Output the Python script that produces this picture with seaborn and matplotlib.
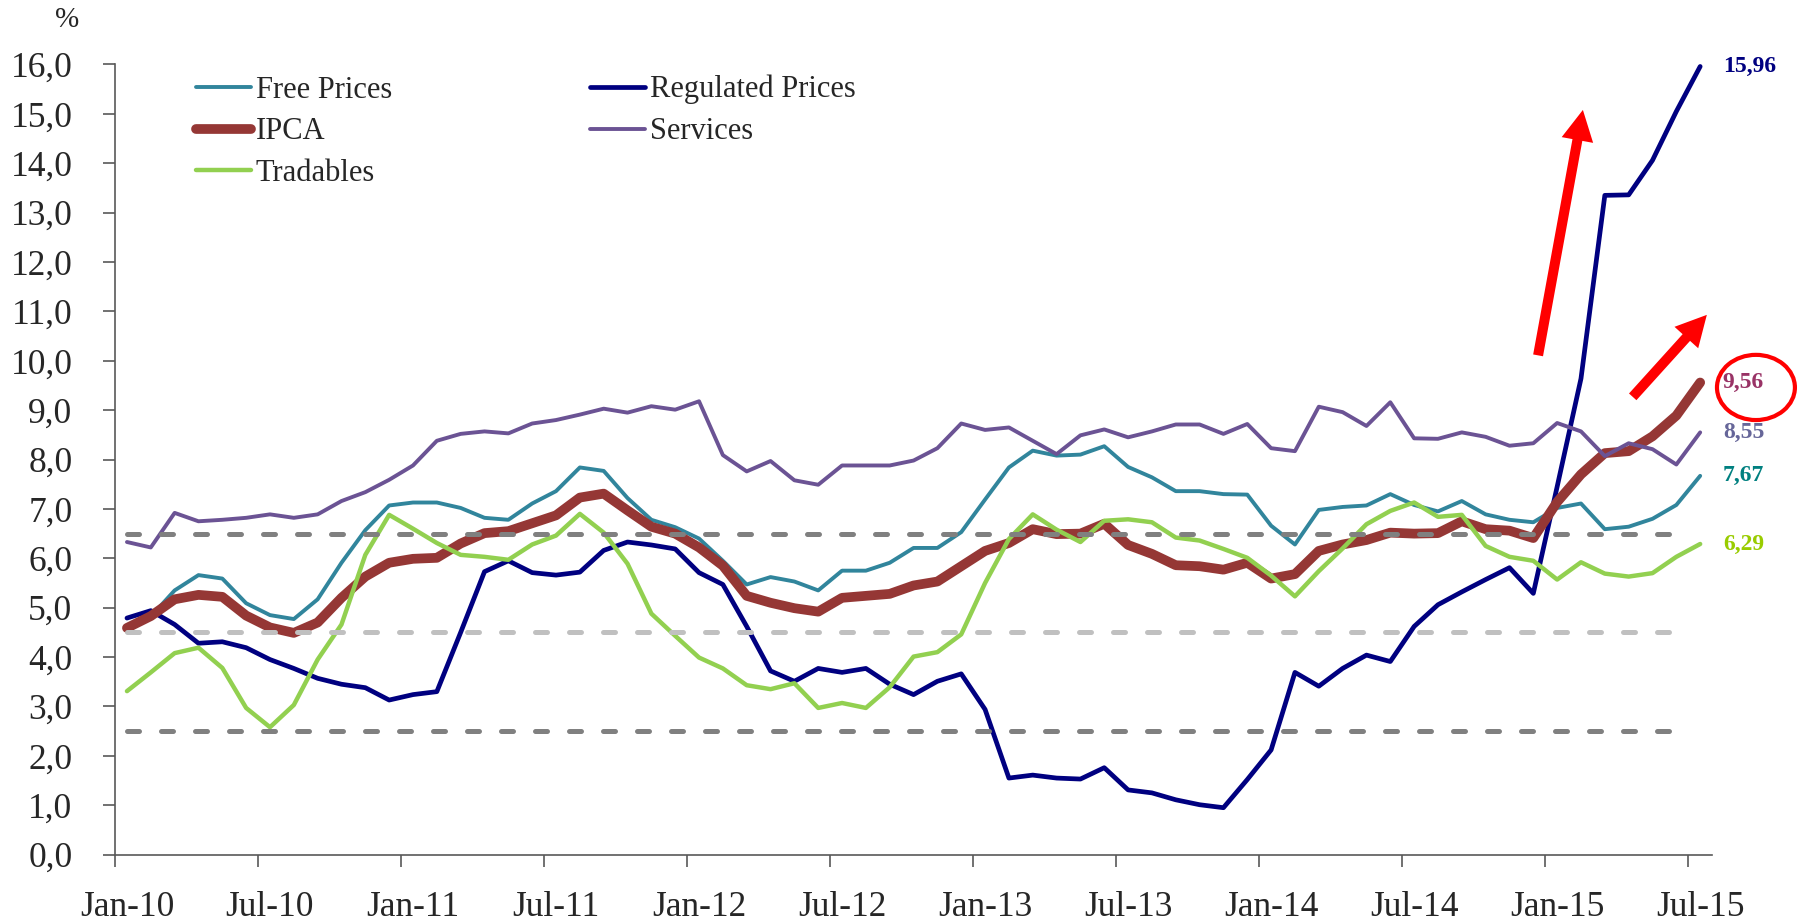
import numpy as np
import pandas as pd
import matplotlib
matplotlib.use("Agg")
import matplotlib.pyplot as plt
import seaborn as sns
from matplotlib.patches import Ellipse, FancyArrowPatch

# ---------------- data (12-month inflation, %) ----------------
months = pd.date_range("2010-01-01", "2015-07-01", freq="MS")

free_prices = [4.52, 4.82, 5.35, 5.66, 5.59, 5.09, 4.85, 4.77, 5.17, 5.91, 6.57, 7.07,
               7.13, 7.13, 7.02, 6.82, 6.78, 7.11, 7.36, 7.84, 7.77, 7.22, 6.78, 6.63,
               6.40, 5.95, 5.47, 5.62, 5.53, 5.35, 5.75, 5.75, 5.91, 6.21, 6.21, 6.53,
               7.19, 7.84, 8.18, 8.08, 8.10, 8.27, 7.85, 7.64, 7.36, 7.36, 7.30, 7.29,
               6.66, 6.28, 6.98, 7.04, 7.07, 7.30, 7.08, 6.95, 7.16, 6.89, 6.78, 6.73,
               7.02, 7.11, 6.59, 6.64, 6.80, 7.08, 7.67]
regulated_prices = [4.79, 4.94, 4.66, 4.28, 4.31, 4.19, 3.95, 3.77, 3.57, 3.45, 3.38, 3.13,
                    3.24, 3.30, 4.50, 5.73, 5.95, 5.71, 5.66, 5.72, 6.16, 6.33, 6.27, 6.19,
                    5.71, 5.47, 4.62, 3.72, 3.51, 3.77, 3.69, 3.77, 3.45, 3.24, 3.51, 3.66,
                    2.94, 1.55, 1.61, 1.55, 1.53, 1.76, 1.31, 1.25, 1.11, 1.01, 0.95, 1.52,
                    2.12, 3.69, 3.41, 3.77, 4.04, 3.91, 4.62, 5.06, 5.32, 5.57, 5.81, 5.29,
                    7.45, 9.64, 13.35, 13.36, 14.06, 15.05, 15.96]
ipca = [4.59, 4.83, 5.17, 5.26, 5.22, 4.84, 4.60, 4.49, 4.70, 5.20, 5.63, 5.91,
        5.99, 6.01, 6.30, 6.51, 6.55, 6.71, 6.87, 7.23, 7.31, 6.97, 6.64, 6.50,
        6.22, 5.85, 5.24, 5.10, 4.99, 4.92, 5.20, 5.24, 5.28, 5.45, 5.53, 5.84,
        6.15, 6.31, 6.59, 6.49, 6.50, 6.70, 6.27, 6.09, 5.86, 5.84, 5.77, 5.91,
        5.59, 5.68, 6.15, 6.28, 6.37, 6.52, 6.50, 6.51, 6.75, 6.59, 6.56, 6.41,
        7.14, 7.70, 8.13, 8.17, 8.47, 8.89, 9.56]
services = [6.33, 6.22, 6.92, 6.75, 6.78, 6.82, 6.89, 6.82, 6.89, 7.16, 7.34, 7.59,
            7.88, 8.38, 8.52, 8.57, 8.53, 8.73, 8.80, 8.91, 9.03, 8.95, 9.08, 9.01,
            9.18, 8.09, 7.76, 7.97, 7.58, 7.49, 7.88, 7.88, 7.88, 7.98, 8.23, 8.73,
            8.60, 8.65, 8.38, 8.11, 8.49, 8.61, 8.45, 8.57, 8.71, 8.71, 8.52, 8.72,
            8.23, 8.17, 9.07, 8.96, 8.68, 9.16, 8.43, 8.42, 8.55, 8.46, 8.28, 8.33,
            8.74, 8.57, 8.07, 8.33, 8.21, 7.90, 8.55]
tradables = [3.31, 3.69, 4.08, 4.19, 3.78, 2.97, 2.58, 3.03, 3.95, 4.66, 6.07, 6.88,
             6.60, 6.31, 6.07, 6.03, 5.97, 6.28, 6.46, 6.90, 6.52, 5.89, 4.88, 4.43,
             3.99, 3.77, 3.43, 3.35, 3.47, 2.97, 3.07, 2.97, 3.39, 4.01, 4.10, 4.46,
             5.50, 6.39, 6.89, 6.58, 6.33, 6.76, 6.79, 6.73, 6.42, 6.36, 6.19, 6.01,
             5.65, 5.23, 5.74, 6.20, 6.69, 6.96, 7.13, 6.84, 6.88, 6.25, 6.03, 5.95,
             5.57, 5.92, 5.69, 5.63, 5.70, 6.03, 6.29]

# inflation target band (center / tolerance)
target_upper = 6.5
target_center = 4.5
target_lower = 2.5
target_months = 66

end_labels = ["15,96", "9,56", "8,55", "7,67", "6,29"]
end_values = [15.96, 9.56, 8.55, 7.67, 6.29]
end_colors = ["#000080", "#993366", "#666699", "#008080", "#99CC00"]

y_ticks = list(range(0, 17))
x_tick_idx = list(range(0, 67, 6))
x_tick_labels = [m.strftime("%b-%y") for m in months[::6]]

df = pd.DataFrame({"t": np.arange(len(months)),
                   "Free Prices": free_prices,
                   "Regulated Prices": regulated_prices,
                   "IPCA": ipca,
                   "Services": services,
                   "Tradables": tradables})

# ---------------- style ----------------
sns.set_style("white")
plt.rcParams["font.family"] = ["Liberation Serif", "DejaVu Serif"]

fig = plt.figure(figsize=(18.06, 9.24), dpi=100)
ax = fig.add_axes([0.0637, 0.0751, 0.8843, 0.8551])

series = [("Free Prices", "#31859C", 2.8),
          ("Regulated Prices", "#000080", 3.4),
          ("IPCA", "#953735", 7.0),
          ("Services", "#6B5394", 2.8),
          ("Tradables", "#92D050", 3.2)]
handles = {}
for name, color, lw in series:
    sns.lineplot(data=df, x="t", y=name, ax=ax, color=color, linewidth=lw,
                 label=name, legend=False)
    line = ax.get_lines()[-1]
    line.set_solid_joinstyle("round")
    line.set_solid_capstyle("round")
    handles[name] = line

tx = df["t"][:target_months]
for val, col in [(target_upper, "#808080"), (target_center, "#C0C0C0"), (target_lower, "#808080")]:
    ax.plot(tx, [val] * target_months, color=col, lw=3.6, dashes=(2.4, 4.4),
            dash_capstyle="round", zorder=5)

# axes
ax.set_xlim(-0.5, 66.5)
ax.set_ylim(0, 16)
ax.set_xlabel("")
ax.set_ylabel("")
for s in ["top", "right"]:
    ax.spines[s].set_visible(False)
for s in ["left", "bottom"]:
    ax.spines[s].set_color("#595959")
    ax.spines[s].set_linewidth(1.2)

ax.set_yticks(y_ticks)
ax.set_yticklabels([f"{v:.1f}".replace(".", ",") for v in y_ticks])
ax.tick_params(axis="y", direction="out", length=8.6, width=1.2, color="#595959",
               pad=22, labelsize=25.5, left=True)

ax.set_xticks([i - 0.5 for i in x_tick_idx])
ax.set_xticklabels([])
ax.set_xticks(x_tick_idx, minor=True)
ax.set_xticklabels(x_tick_labels, minor=True)
ax.tick_params(axis="x", which="major", direction="out", length=8.6, width=1.2,
               color="#595959", bottom=True)
ax.tick_params(axis="x", which="minor", length=0, pad=26, labelsize=25.5, bottom=True)

fig.text(67 / 1806, 1 - 20 / 924, "%", fontsize=21, ha="center", va="center")

# legend
order = ["Free Prices", "IPCA", "Tradables", "Regulated Prices", "Services"]
ax.legend([handles[n] for n in order], order, ncol=2, frameon=False,
          loc="upper left", bbox_to_anchor=(196 / 1806, 1 - 75 / 924),
          bbox_transform=fig.transFigure, borderpad=0, borderaxespad=0,
          fontsize=22, handlelength=1.8, handletextpad=0.15,
          columnspacing=6.5, labelspacing=0.42)

# end-of-series value labels
for lab, val, col in zip(end_labels, end_values, end_colors):
    ax.text(66.95, val, lab, color=col, fontsize=17, fontweight="bold",
            ha="left", va="center", clip_on=False)

ax.add_patch(Ellipse((68.34, 9.46), 3.27, 1.32, fill=False, edgecolor="#FF0000",
                     lw=3.0, clip_on=False))

for (x0, y0), (x1, y1) in [((59.2, 10.11), (61.08, 15.08)), ((63.17, 9.27), (66.28, 10.93))]:
    ax.add_patch(FancyArrowPatch((x0, y0), (x1, y1),
                                 arrowstyle="simple,head_width=2.3,head_length=2.2,tail_width=0.72",
                                 mutation_scale=10, color="#FF0000", lw=0,
                                 shrinkA=0, shrinkB=0, clip_on=False, zorder=6))

fig.savefig("out.png", dpi=100)
